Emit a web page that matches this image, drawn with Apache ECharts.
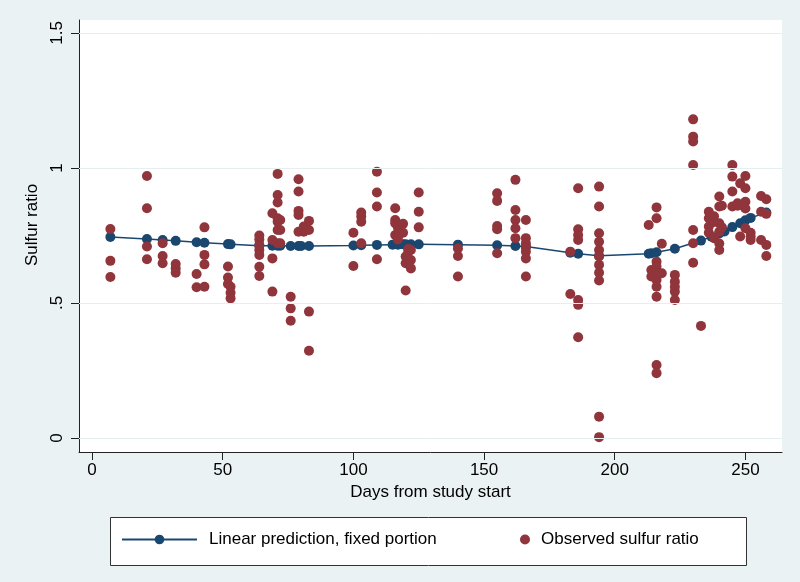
<!DOCTYPE html>
<html>
<head>
<meta charset="utf-8">
<script src="https://cdn.jsdelivr.net/npm/echarts@6/dist/echarts.min.js"></script>
<style>
html,body{margin:0;padding:0;background:#eaf2f3;}
#chart{width:800px;height:582px;}
</style>
</head>
<body>
<div id="chart"></div>
<script>
// Linear prediction, fixed portion
const predDays = [7,21,27,32,40,43,52,53,64,69,71,72,76,79,80,83,100,103,109,115,117,119,120,122,125,140,155,162,166,183,186,194,213,214,216,223,233,237,240,242,245,248,250,252,258];
const predVals = [0.744,0.737,0.733,0.730,0.725,0.723,0.718,0.717,0.712,0.712,0.712,0.712,0.711,0.711,0.711,0.711,0.713,0.714,0.715,0.716,0.716,0.717,0.717,0.717,0.717,0.716,0.714,0.711,0.709,0.686,0.682,0.675,0.682,0.684,0.688,0.701,0.731,0.745,0.757,0.765,0.781,0.795,0.806,0.815,0.835];

// Observed sulfur ratio (grouped by day)
const obsDays = [7,21,27,32,40,43,52,53,64,69,71,72,76,79,81,83,100,103,109,116,117,119,120,121,122,125,140,155,162,166,183,186,194,213,214,216,218,223,230,233,236,238,240,241,245,247,248,250,252,256,258];
const obsVals = [
  [0.774,0.656,0.596],
  [0.970,0.851,0.709,0.662],
  [0.721,0.674,0.647],
  [0.644,0.628,0.612],
  [0.607,0.558],
  [0.780,0.678,0.643,0.560],
  [0.635,0.594,0.570],
  [0.560,0.538,0.517],
  [0.750,0.735,0.715,0.696,0.678,0.634,0.600],
  [0.832,0.733,0.665,0.542],
  [0.978,0.900,0.872,0.814,0.801,0.770,0.721],
  [0.807,0.770,0.721],
  [0.523,0.480,0.434],
  [0.958,0.913,0.841,0.826,0.764],
  [0.783,0.764],
  [0.804,0.770,0.468,0.323],
  [0.760,0.637],
  [0.835,0.820,0.801,0.721],
  [0.986,0.909,0.857,0.662],
  [0.851,0.807,0.795,0.752],
  [0.780,0.745,0.735],
  [0.793,0.760],
  [0.672,0.647,0.546],
  [0.700,0.690],
  [0.696,0.659,0.628],
  [0.909,0.838,0.780],
  [0.702,0.674,0.598],
  [0.906,0.878,0.785,0.773,0.684],
  [0.956,0.844,0.807,0.777,0.740],
  [0.807,0.740,0.721,0.706,0.690,0.665,0.598],
  [0.690,0.533],
  [0.925,0.773,0.752,0.733,0.511,0.493,0.373],
  [0.931,0.857,0.758,0.727,0.696,0.672,0.641,0.612,0.583,0.079,0.003],
  [0.789],
  [0.622,0.598],
  [0.854,0.814,0.653,0.635,0.610,0.585,0.560,0.523,0.270,0.240],
  [0.719,0.610],
  [0.604,0.579,0.560,0.542,0.511],
  [1.180,1.116,1.098,1.011,0.770,0.721,0.649],
  [0.415],
  [0.838,0.814,0.783,0.760],
  [0.821,0.800,0.740],
  [0.894,0.857,0.795,0.764,0.720,0.696],
  [0.860,0.780],
  [1.011,0.968,0.913,0.857],
  [0.869,0.860],
  [0.943,0.746],
  [0.970,0.925,0.875,0.850,0.777],
  [0.760,0.746,0.733],
  [0.896,0.838,0.733],
  [0.884,0.830,0.715,0.674]
];

const xTicks = [0,50,100,150,200,250];
const yTicks = [0,0.5,1,1.5];
const yTickLabels = ['0','.5','1','1.5'];

const predData = predDays.map((d,i)=>[d,predVals[i]]);
const obsData = [];
obsDays.forEach((d,i)=>obsVals[i].forEach(v=>obsData.push([d,v])));

const FONT = 'Liberation Sans, Arial, sans-serif';
const BLUE = '#1a476f';
const RED = '#90353b';

const chart = echarts.init(document.getElementById('chart'), null, {renderer:'canvas'});
chart.setOption({
  backgroundColor:'#eaf2f3',
  animation:false,
  textStyle:{fontFamily:FONT},
  grid:{left:79, top:20, width:703, height:432, show:true, backgroundColor:'#ffffff', borderWidth:0},
  xAxis:{
    type:'value', min:-5, max:264,
    name:'Days from study start', nameLocation:'middle', nameGap:32,
    nameTextStyle:{fontSize:17, color:'#000', fontFamily:FONT},
    axisLine:{show:true, onZero:false, lineStyle:{color:'#222', width:1}},
    axisTick:{show:true, length:8, customValues:xTicks, lineStyle:{color:'#222'}},
    axisLabel:{customValues:xTicks, fontSize:17, color:'#000', margin:10, fontFamily:FONT},
    splitLine:{show:false}
  },
  yAxis:{
    type:'value', min:-0.052, max:1.548,
    name:'Sulfur ratio', nameLocation:'middle', nameGap:37, nameRotate:90,
    nameTextStyle:{fontSize:17, color:'#000', fontFamily:FONT, padding:[0,0,0,22]},
    axisLine:{show:true, onZero:false, lineStyle:{color:'#222', width:1}},
    axisTick:{show:true, length:8, customValues:yTicks, lineStyle:{color:'#222'}},
    axisLabel:{customValues:yTicks, rotate:90, fontSize:17, color:'#000', margin:13, fontFamily:FONT,
      formatter:function(v){const i=yTicks.indexOf(v);return i>=0?yTickLabels[i]:'';}},
    splitLine:{show:false}
  },
  legend:[
    {data:['Linear prediction, fixed portion'], left:121, top:531, padding:0, itemWidth:75, itemHeight:12,
     textStyle:{fontSize:17, color:'#000', fontFamily:FONT, padding:[0,0,0,7]}},
    {data:['Observed sulfur ratio'], left:520, top:531, padding:0, itemWidth:10, itemHeight:10,
     textStyle:{fontSize:17, color:'#000', fontFamily:FONT, padding:[0,0,0,6]}}
  ],
  graphic:[
    {type:'rect', shape:{x:110.5, y:517.5, width:636, height:48}, style:{fill:'#ffffff', stroke:'#333', lineWidth:1}, z:-1}
  ],
  series:[
    {
      name:'gridlines', type:'scatter', data:[], silent:true, z:1,
      markLine:{silent:true, symbol:['none','none'], label:{show:false},
        lineStyle:{color:'#e6eef0', width:1, type:'solid'},
        data:yTicks.map(v=>({yAxis:v}))}
    },
    {
      name:'Linear prediction, fixed portion', type:'line', data:predData, z:3,
      symbol:'circle', symbolSize:10, showSymbol:true,
      lineStyle:{color:BLUE, width:1.5}, itemStyle:{color:BLUE}
    },
    {
      name:'Observed sulfur ratio', type:'scatter', data:obsData, z:4,
      symbol:'circle', symbolSize:10, itemStyle:{color:RED, opacity:1}
    }
  ]
});
</script>
</body>
</html>
